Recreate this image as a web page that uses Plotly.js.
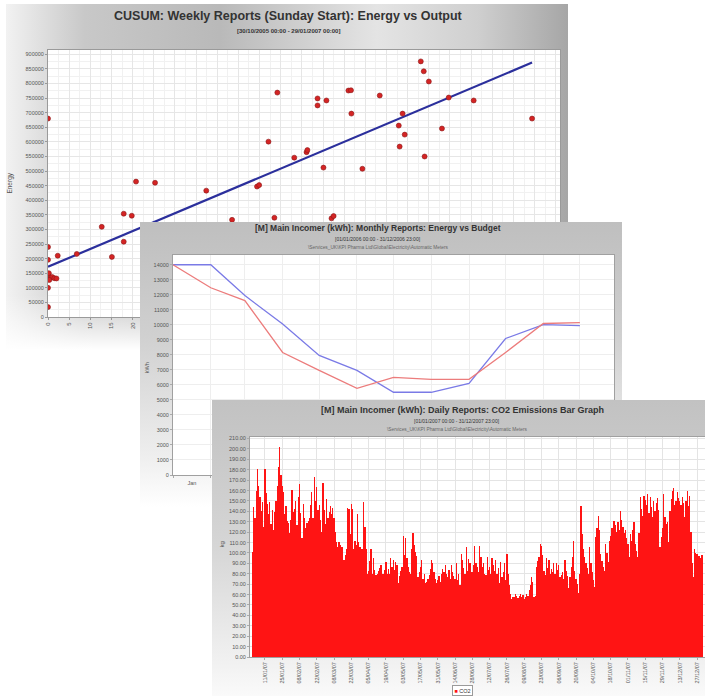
<!DOCTYPE html>
<html><head><meta charset="utf-8">
<script src="https://cdn.plot.ly/plotly-3.0.1.min.js"></script>
<style>
html,body{margin:0;padding:0;background:#fff;width:705px;height:696px;overflow:hidden;position:relative;font-family:"Liberation Sans",Arial,sans-serif;}
.panel{position:absolute;}
#c1{left:6px;top:4px;width:562px;height:346px;z-index:1;
 background:linear-gradient(to bottom, rgba(255,255,255,0) 84%, #ffffff 100%),
 linear-gradient(to right,#f2f2f2 0%,#c8c8c8 14%,#b9b9b9 38%,#e4e4e4 66%,#cfcfcf 84%,#a6a6a6 100%);}
#c2{left:140px;top:222px;width:482px;height:285px;z-index:2;
 background:linear-gradient(to bottom,#bfbfbf 0%,#c3c3c3 11%,#d0d0d0 40%,#eeeeee 82%,#ffffff 100%);}
#c3{left:212px;top:400px;width:500px;height:296px;z-index:3;
 background:linear-gradient(to bottom,#c2c2c2 0%,#c6c6c6 12%,#d6d6d6 50%,#f2f2f2 90%,#fafafa 100%);}
</style></head>
<body>
<div id="c1" class="panel"></div>
<div id="c2" class="panel"></div>
<div id="c3" class="panel"></div>
<script>
// ---------- Chart 1: CUSUM scatter ----------
const cusumOutput = [0, 0, 0, 0.2, 0.5, 1.0, 1.5, 2.0, 0.3, 0, 0, 2.3, 6.8, 12.7, 15.1, 17.9, 17.9, 19.8, 20.8, 25.3,
  37.4, 43.5, 49.4, 49.9, 52.1, 53.5, 54.2, 58.2, 61.1, 61.3, 63.7, 63.7, 65.1, 65.8, 67.0, 67.5, 71.0, 71.6, 71.7,
  74.3, 78.4, 82.9, 83.1, 83.8, 84.3, 88.1, 88.8, 89.0, 90.0, 93.1, 94.7, 100.6, 114.4];
const cusumEnergy = [680000, 240000, 196000, 150000, 135000, 137000, 133000, 132000, 127000, 100000, 34000, 210000, 216000, 309000, 206000, 354000, 258000, 347000, 464000, 460000,
  433000, 333000, 447000, 452000, 601000, 340000, 769000, 546000, 565000, 572000, 749000, 725000, 512000, 742000, 338000, 346000, 776000, 777000, 697000,
  508000, 759000, 656000, 584000, 697000, 625000, 876000, 842000, 550000, 807000, 646000, 752000, 742000, 680000];
const fitOutput = [0, 114.4];
const fitEnergy = [172000, 872000];

// ---------- Chart 2: Monthly energy vs budget ----------
const months = ['2006-01-01','2006-02-01','2006-03-01','2006-04-01','2006-05-01','2006-06-01',
  '2006-07-01','2006-08-01','2006-09-01','2006-10-01','2006-11-01','2006-12-01'];
const budgetKWh = [14000, 14000, 11950, 10050, 7960, 6970, 5510, 5510, 6100, 9090, 10020, 9950];
const energyKWh = [14000, 12470, 11610, 8160, 6970, 5770, 6500, 6370, 6370, 8160, 10090, 10150];

// ---------- Chart 3: Daily CO2 ----------
const co2Start = '2007-01-01';
const co2Kg = [
101,144,134,160, 181,164,154,140, 149,125,181,158, 147,137,149,128, 141,122,139,150,
164,183,202,175, 164,159,137,145, 131,129,119,132, 161,139,142,150, 127,154,166,138,
114,147,134,124, 129,131,134,146, 159,134,173,150, 163,141,146,132, 120,167,141,128,
152,134,139,145, 137,143,134,120, 111,106,111,108, 106,106,93,98, 104,143,142,118,
147,142,104,112, 108,137,111,106, 104,104,149,125, 104,80,83,92, 104,80,95,84,
79,80,83,86, 88,80,80,84, 91,80,85,80, 95,87,93,84, 91,88,71,78,
83,87,116,98, 114,95,87,82, 80,104,119,108, 101,97,77,82, 87,93,75,80,
71,72,75,79, 85,93,90,82, 75,71,74,78, 72,80,85,82, 88,80,77,84,
75,88,82,78, 75,90,74,80, 69,99,93,86, 80,106,83,94, 90,82,82,88,
107,90,87,82, 107,96,87,90, 80,79,96,84, 87,80,95,88, 83,93,80,86,
71,91,77,82, 90,74,99,80, 69,61,56,58, 58,61,59,57, 59,61,58,60,
56,58,61,59, 64,69,77,72, 58,59,87,92, 96,109,107,98, 83,79,95,86,
93,80,85,82, 90,80,90,84, 88,77,79,82, 75,93,83,78, 66,77,87,96,
112,83,75,70, 62,80,145,118, 104,96,90,86, 80,106,90,82, 74,67,115,124,
136,122,99,92, 87,83,109,100, 91,112,116,124, 131,131,127,120, 130,122,140,132,
125,119,122,114, 109,96,118,112, 122,130,109,102, 96,119,154,142, 136,155,151,146,
157,138,154,144, 135,150,140,148, 153,141,106,115, 124,157,135,128, 130,111,140,152,
160,162,146,150, 159,153,150,146, 154,148,135,150, 160,145,155,120, 90,77,104,100,
99,97,97,95,98];
const co2Series = 'CO2';
const co2Dates = [];
{
  const d0 = new Date(co2Start + 'T00:00:00Z');
  for (let i = 0; i < co2Kg.length; i++) {
    const d = new Date(d0.getTime() + i * 86400000);
    co2Dates.push(d.toISOString().slice(0, 10));
  }
}

const FONT = '"Liberation Sans", Arial, sans-serif';
const cfg = {displayModeBar:false, staticPlot:true};
const BAR_RED = '#ff1414';

function ann(text, x, y, size, bold, extra) {
  return Object.assign({xref:'paper', yref:'paper', x:x, y:y, xanchor:'center', yanchor:'middle',
    showarrow:false, text: bold ? '<b>' + text + '</b>' : text,
    font:{family:FONT, size:size, color:'#333'}}, extra || {});
}

// Chart 1
Plotly.newPlot('c1', [
  {type:'scatter', mode:'lines', x:fitOutput, y:fitEnergy, line:{color:'#2b2f9c', width:2.2}, showlegend:false},
  {type:'scatter', mode:'markers', x:cusumOutput, y:cusumEnergy,
    marker:{color:'#d42424', size:5, line:{color:'#8a1a1a', width:0.6}}, showlegend:false}
], {
  width:562, height:346, margin:{l:42, r:8, t:46, b:33},
  paper_bgcolor:'rgba(0,0,0,0)', plot_bgcolor:'#ffffff',
  font:{family:FONT},
  xaxis:{range:[0,121], dtick:5, tickangle:-90, tickfont:{size:6, color:'#555'},
    gridcolor:'#e6e6e6', showline:true, mirror:true, linecolor:'#9a9a9a', ticks:'outside', ticklen:2,
    tickcolor:'#999', zeroline:false, minor:{dtick:2.5, showgrid:true, gridcolor:'#f1f1f1'}},
  yaxis:{range:[0,915000], dtick:50000, tickformat:'d', tickfont:{size:5.5, color:'#555'},
    gridcolor:'#e6e6e6', showline:true, mirror:true, linecolor:'#9a9a9a', ticks:'outside', ticklen:2,
    tickcolor:'#999', zeroline:false, minor:{dtick:25000, showgrid:true, gridcolor:'#f1f1f1'}},
  annotations:[
    ann('CUSUM: Weekly Reports (Sunday Start): Energy vs Output', 0.47, 1.127, 12.5, true),
    ann('[30/10/2005 00:00 - 29/01/2007 00:00]', 0.47, 1.071, 6, true),
    ann('Energy', -0.076, 0.5, 6.5, false, {textangle:-90, font:{family:FONT, size:6.5, color:'#555'}}),
    ann('Output', 0.5, -0.085, 6.5, false, {font:{family:FONT, size:6.5, color:'#555'}})
  ]
}, cfg);

// Chart 2
Plotly.newPlot('c2', [
  {type:'scatter', mode:'lines', name:'Budget', x:months, y:budgetKWh, line:{color:'#7a7ae6', width:1.3}},
  {type:'scatter', mode:'lines', name:'Energy', x:months, y:energyKWh, line:{color:'#ec7c7c', width:1.3}}
], {
  width:482, height:285, margin:{l:33, r:8, t:33, b:32}, showlegend:false,
  paper_bgcolor:'rgba(0,0,0,0)', plot_bgcolor:'#ffffff',
  font:{family:FONT},
  xaxis:{type:'date', range:['2006-01-01','2006-12-29'], dtick:'M1', ticklabelmode:'period', tickformat:'%b',
    tickfont:{size:5.5, color:'#555'}, gridcolor:'#eeeeee', showline:true, mirror:true, linecolor:'#a0a0a0',
    ticks:'outside', ticklen:2, tickcolor:'#aaa', zeroline:false},
  yaxis:{range:[0,14650], dtick:1000, tickformat:'d', tickfont:{size:5.5, color:'#555'},
    gridcolor:'#eeeeee', showline:true, mirror:true, linecolor:'#a0a0a0', ticks:'outside', ticklen:2,
    tickcolor:'#aaa', zeroline:false},
  annotations:[
    ann('[M] Main Incomer (kWh): Monthly Reports: Energy vs Budget', 0.465, 1.123, 8.5, true),
    ann('[01/01/2006 00:00 - 31/12/2006 23:00]', 0.465, 1.073, 5, false),
    ann('\\Services_UK\\KPI Pharma Ltd\\Global\\Electricity\\Automatic Meters', 0.465, 1.032, 4.8, false, {font:{family:FONT,size:4.8,color:'#666'}}),
    ann('kWh', -0.059, 0.49, 5.5, false, {textangle:-90, font:{family:FONT, size:5.5, color:'#555'}})
  ]
}, cfg);

// Chart 3
Plotly.newPlot('c3', [
  {type:'bar', name:co2Series, x:co2Dates, y:co2Kg, marker:{color:BAR_RED, line:{width:0}}}
], {
  width:500, height:296, margin:{l:38, r:7, t:37, b:39}, bargap:0,
  paper_bgcolor:'rgba(0,0,0,0)', plot_bgcolor:'#ffffff',
  font:{family:FONT},
  showlegend:false,
  xaxis:{type:'date', range:['2006-12-29 22:00','2008-01-02 10:00'], tick0:'2007-01-11',
    dtick:14*86400000, tickformat:'%d/%m/%y', tickangle:-90, tickfont:{size:5.5, color:'#555'},
    gridcolor:'#e4e4e4', showline:true, mirror:true, linecolor:'#a0a0a0', ticks:'outside', ticklen:2,
    tickcolor:'#aaa', zeroline:false},
  yaxis:{range:[0,211.5], dtick:10, tickformat:'.2f', tickfont:{size:5.5, color:'#555'},
    gridcolor:'#e4e4e4', showline:true, mirror:true, linecolor:'#a0a0a0', ticks:'outside', ticklen:2,
    tickcolor:'#aaa', zeroline:false},
  annotations:[
    ann('[M] Main Incomer (kWh): Daily Reports: CO2 Emissions Bar Graph', 0.466, 1.123, 9, true),
    ann('[01/01/2007 00:00 - 31/12/2007 23:00]', 0.455, 1.073, 5, false),
    ann('\\Services_UK\\KPI Pharma Ltd\\Global\\Electricity\\Automatic Meters', 0.455, 1.036, 4.8, false, {font:{family:FONT,size:4.8,color:'#666'}}),
    ann('kg', -0.062, 0.51, 6, false, {textangle:-90, font:{family:FONT, size:6, color:'#555'}}),
    ann('<span style="color:' + BAR_RED + '">■</span> ' + co2Series, 0.466, -0.152, 5.5, false,
      {bgcolor:'#ffffff', bordercolor:'#9a9a9a', borderwidth:1, borderpad:1.5,
       font:{family:FONT, size:5.5, color:'#333'}})
  ]
}, cfg);
</script>
</body></html>
